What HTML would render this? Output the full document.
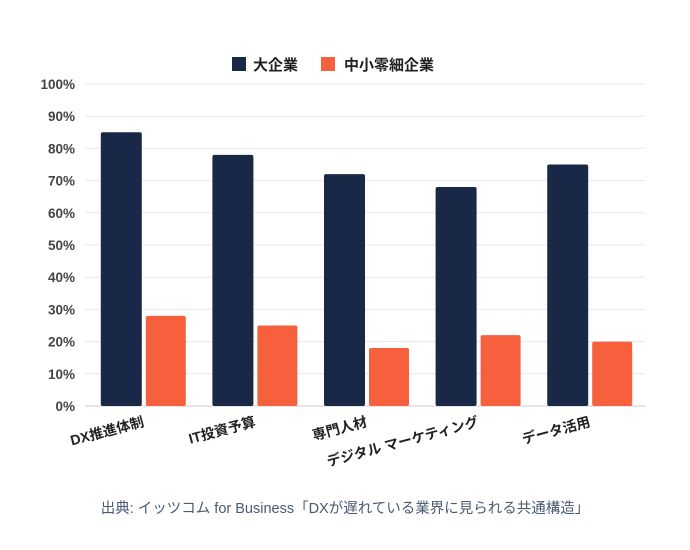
<!DOCTYPE html>
<html><head><meta charset="utf-8"><style>
body{margin:0;background:#fff;width:690px;height:545px;overflow:hidden}
text{font-family:"Liberation Sans","Noto Sans CJK JP",sans-serif}
</style></head><body>
<svg id="chart" width="690" height="545">
<g>
<rect x="232" y="57" width="14" height="14" fill="#1a2847"/>
<text x="253" y="70" font-size="15" font-weight="bold" fill="#222">大企業</text>
<rect x="321" y="57" width="14" height="14" fill="#f6603d"/>
<text x="344" y="70" font-size="15" font-weight="bold" fill="#222">中小零細企業</text>
</g>
<g id="grid"></g><g id="bars"></g><g id="labels"></g>
<text x="345" y="513" text-anchor="middle" font-size="14.5" fill="#4a5a72">出典: イッツコム for Business「DXが遅れている業界に見られる共通構造」</text>
</svg>
<script>
const categories=["DX推進体制","IT投資予算","専門人材","デジタル マーケティング","データ活用"];
const largeValues=[85,78,72,68,75];
const smeValues=[28,25,18,22,20];
const ticks=[0,10,20,30,40,50,60,70,80,90,100];
const NS="http://www.w3.org/2000/svg";
const x0=87,x1=645,y0=406,y1=84;
const band=(x1-x0)/categories.length;
const y=v=>y0-(y0-y1)*v/100;
const cx=i=>x0+band*(i+0.5);
function mk(t,a,p){const e=document.createElementNS(NS,t);for(const k in a)e.setAttribute(k,a[k]);p.appendChild(e);return e;}
const g=document.getElementById('grid');
ticks.forEach(t=>{
 const l=mk('line',{x1:85,x2:645,y1:y(t),y2:y(t),stroke:t===0?'#c8ccd4':'#e6e8ec','stroke-width':1},g);
 
 
 const tx=mk('text',{x:75,y:y(t)+5,'text-anchor':'end','font-size':13.5,'font-weight':'bold',fill:'#444'},g);
 tx.textContent=t+'%';
 
 
});
const b=document.getElementById('bars');
categories.forEach((c,i)=>{
 const r1=mk('rect',{x:cx(i)-42,y:y(largeValues[i]),width:41,height:y0-y(largeValues[i]),rx:2,fill:'#1a2847'},b);
 
 
 const r2=mk('rect',{x:cx(i)+3,y:y(smeValues[i]),width:40,height:y0-y(smeValues[i]),rx:2,fill:'#f6603d'},b);
 
 
 const lx=cx(i)+2,ly=426;
 const t=mk('text',{x:lx,y:ly,'text-anchor':'end','font-size':14,'font-weight':'bold',fill:'#222',transform:`rotate(-15 ${lx} ${ly})`},document.getElementById('labels'));
 t.textContent=c;
 
 
});
</script>
</body></html>
